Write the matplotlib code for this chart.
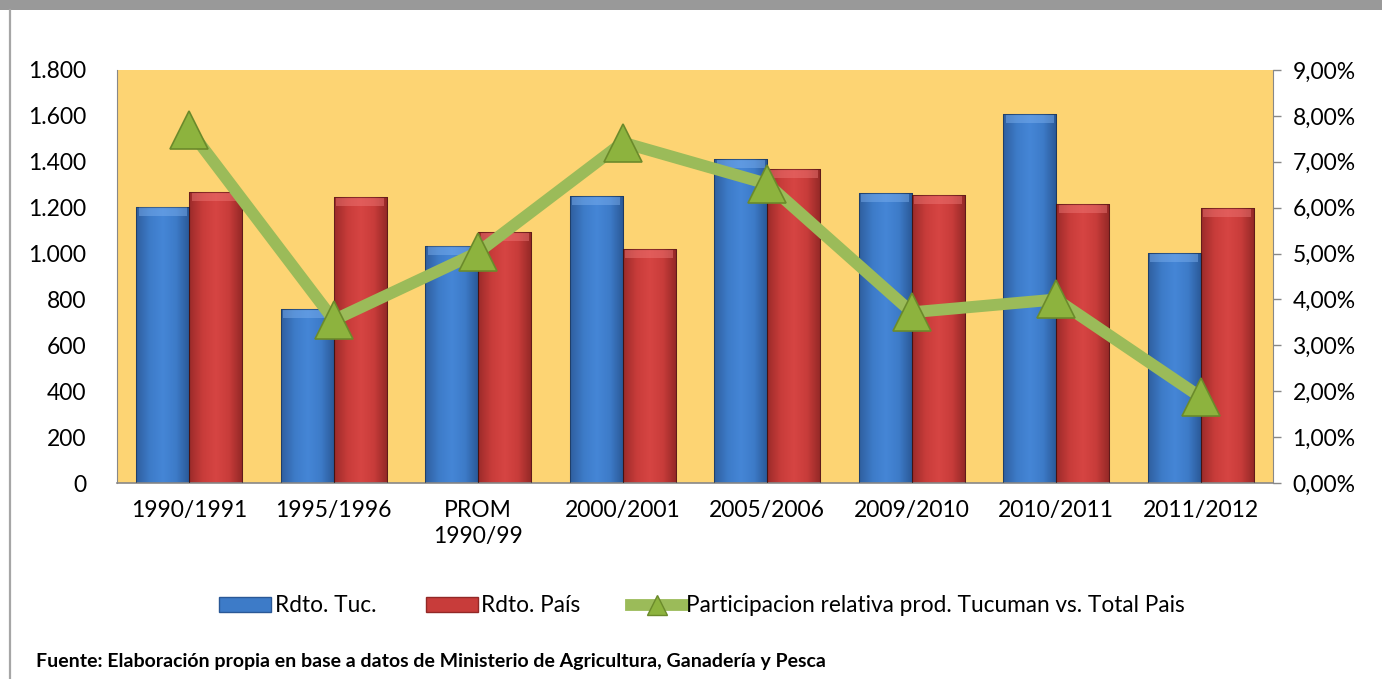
import matplotlib
matplotlib.use("Agg")
import matplotlib.pyplot as plt
import numpy as np
from matplotlib.colors import LinearSegmentedColormap
from matplotlib.lines import Line2D
from matplotlib.patches import Rectangle

plt.rcParams['font.family'] = ['Lato', 'DejaVu Sans']

categories = ["1990/1991", "1995/1996", "PROM\n1990/99", "2000/2001",
              "2005/2006", "2009/2010", "2010/2011", "2011/2012"]
rdto_tuc = [1205, 760, 1035, 1250, 1412, 1265, 1607, 1002]
rdto_pais = [1268, 1248, 1095, 1020, 1370, 1257, 1217, 1198]
participacion = [7.70, 3.55, 5.03, 7.42, 6.52, 3.72, 4.00, 1.87]

left_ticks = [0, 200, 400, 600, 800, 1000, 1200, 1400, 1600, 1800]
left_labels = ["0", "200", "400", "600", "800", "1.000", "1.200", "1.400", "1.600", "1.800"]
right_ticks = [0, 1, 2, 3, 4, 5, 6, 7, 8, 9]
right_labels = ["0,00%", "1,00%", "2,00%", "3,00%", "4,00%", "5,00%",
                "6,00%", "7,00%", "8,00%", "9,00%"]

W, H = 1382, 679
fig = plt.figure(figsize=(W / 100, H / 100), dpi=100)
fig.patch.set_facecolor("white")

# frame decorations
fig.add_artist(Rectangle((0, 1 - 10 / H), 1, 10 / H, transform=fig.transFigure,
                         facecolor="#999999", edgecolor="none"))
fig.add_artist(Line2D([10 / W, 10 / W], [0, 1 - 10 / H], transform=fig.transFigure,
                      color="#a6a6a6", lw=1.6))

ax = fig.add_axes([117 / W, 1 - 483 / H, (1273 - 117) / W, (483 - 70) / H])
ax.set_facecolor("#FDD473")
ax.set_ylim(0, 1800)
x = np.arange(len(categories))
ax.set_xlim(-0.5, len(categories) - 0.5)
bw = 0.367

blue_cmap = LinearSegmentedColormap.from_list(
    "b", ["#2f5f9f", "#3d7bc8", "#4586d6", "#3d7bc8", "#2a5896"])
red_cmap = LinearSegmentedColormap.from_list(
    "r", ["#9c2b2a", "#c83c3a", "#d64543", "#c83c3a", "#922826"])
grad = np.linspace(0, 1, 64).reshape(1, -1)

def draw_bars(xs, vals, cmap, top_col):
    bars = ax.bar(xs, vals, width=bw, color="none", edgecolor="none", zorder=2)
    for b in bars:
        x0, w, h = b.get_x(), b.get_width(), b.get_height()
        im = ax.imshow(grad, cmap=cmap, aspect="auto",
                       extent=[x0, x0 + w, 0, h], zorder=2, interpolation="bilinear")
        im.set_clip_path(b)
        # top bevel highlight
        ax.add_patch(Rectangle((x0 + w * 0.05, h - 40), w * 0.90, 36,
                               facecolor=top_col, edgecolor="none", alpha=0.45, zorder=2.5))
        ax.add_patch(Rectangle((x0, 0), w, h, facecolor="none",
                               edgecolor="#00000055", lw=0.8, zorder=2.6))
    return bars

draw_bars(x - bw / 2, rdto_tuc, blue_cmap, "#7fb2f0")
draw_bars(x + bw / 2, rdto_pais, red_cmap, "#f07a78")
ax.set_xlim(-0.5, len(categories) - 0.5)
ax.set_ylim(0, 1800)

fs = 16.5
ax.set_yticks(left_ticks)
ax.set_yticklabels(left_labels, fontsize=fs)
ax.tick_params(axis="y", length=0, pad=22)
ax.set_xticks(x)
ax.set_xticklabels(categories, fontsize=fs, linespacing=1.3)
ax.tick_params(axis="x", length=0, pad=12)
for s in ["top", "right"]:
    ax.spines[s].set_visible(False)
ax.spines["left"].set_color("#888888")
ax.spines["bottom"].set_color("#888888")
ax.spines["bottom"].set_linewidth(1.2)

ax2 = ax.twinx()
ax2.set_ylim(0, 9)
ax2.plot(x, participacion, color="#9BBB59", lw=8.5, solid_capstyle="butt", zorder=3)
ax2.plot(x, participacion, linestyle="none", marker="^", markersize=27,
         markerfacecolor="#8DB33E", markeredgecolor="#6B8A2B", markeredgewidth=1.2, zorder=4)
ax2.set_yticks(right_ticks)
ax2.set_yticklabels(right_labels, fontsize=fs)
ax2.tick_params(axis="y", length=6, width=1, color="#888888", pad=8)
for s in ["top", "left", "bottom"]:
    ax2.spines[s].set_visible(False)
ax2.spines["right"].set_color("#888888")
ax2.set_xlim(-0.5, len(categories) - 0.5)

# legend
handles = [
    Rectangle((0, 0), 1, 1, facecolor="#3d7bc8", edgecolor="#2a5896"),
    Rectangle((0, 0), 1, 1, facecolor="#c83c3a", edgecolor="#922826"),
    Line2D([], [], color="#9BBB59", lw=8.5, marker="^", markersize=15,
           markerfacecolor="#8DB33E", markeredgecolor="#6B8A2B"),
]
labels = ["Rdto. Tuc.", "Rdto. País", "Participacion relativa prod. Tucuman vs. Total Pais"]
fig.legend(handles, labels, loc="center", bbox_to_anchor=(702 / W, 1 - 606 / H),
           ncol=3, frameon=False, fontsize=16.3, handlelength=2.3, handleheight=0.6,
           handletextpad=0.15, columnspacing=2.2)

fig.text(36 / W, 1 - 662 / H,
         "Fuente: Elaboración propia en base a datos de Ministerio de Agricultura, Ganadería y Pesca",
         fontsize=14, fontweight="bold", va="center", ha="left")

fig.savefig("out.png", dpi=100, facecolor=fig.get_facecolor())
